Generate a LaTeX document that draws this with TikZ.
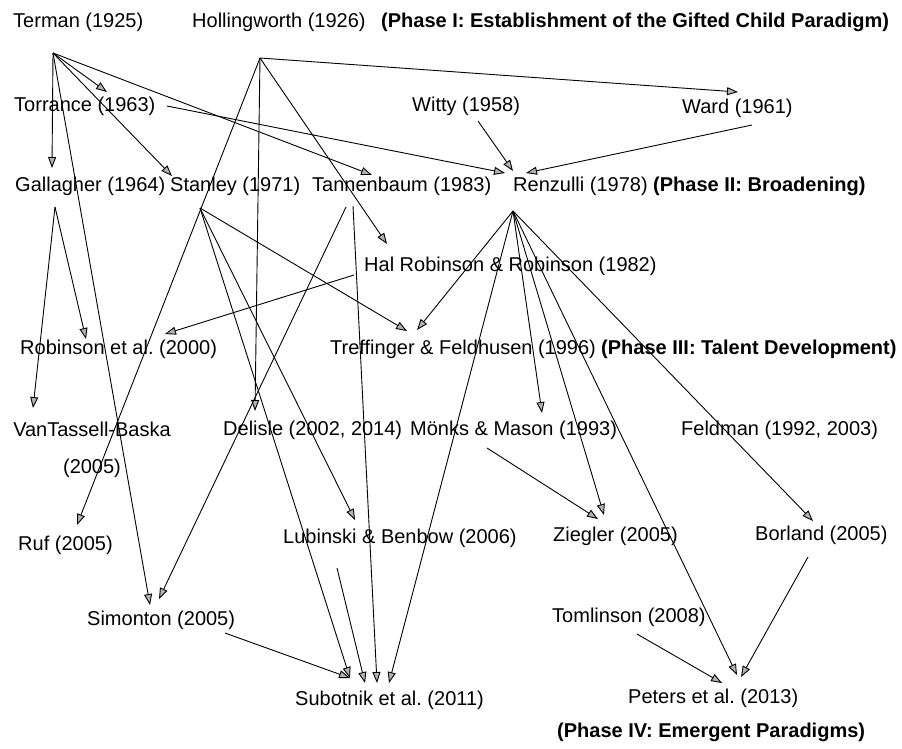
\documentclass[tikz,border=0pt]{standalone}
\usepackage{fontspec}
\setmainfont{Liberation Sans}
\usetikzlibrary{arrows.meta}
\frenchspacing
\begin{document}
\begin{tikzpicture}[x=1pt,y=-1pt,
  lbl/.style={anchor=west,inner sep=0pt,font=\fontsize{20}{24}\selectfont},
  phase/.style={anchor=west,inner sep=0pt,font=\fontsize{20}{24}\selectfont\bfseries},
  arr/.style={draw=black,line width=0.9pt,-{Triangle[length=11pt,width=8pt,fill=gray!60]}}]
\useasboundingbox (0,0) rectangle (902,748);
% labels
\node[lbl] (terman) at (13,22) {Terman (1925)};
\node[lbl] (holl) at (192,22) {Hollingworth (1926)};
\node[phase] (ph1) at (381,22) {(Phase I: Establishment of the Gifted Child Paradigm)};
\node[lbl] (torr) at (14,106) {Torrance (1963)};
\node[lbl] (witty) at (412,106) {Witty (1958)};
\node[lbl] (ward) at (682,108) {Ward (1961)};
\node[lbl] (gall) at (15,186) {Gallagher (1964)};
\node[lbl] (stan) at (170,186) {Stanley (1971)};
\node[lbl] (tann) at (312,186) {Tannenbaum (1983)};
\node[lbl] (renz) at (513,186) {Renzulli (1978)};
\node[phase] (ph2) at (653,186) {(Phase II: Broadening)};
\node[lbl] (halr) at (364,266) {Hal Robinson \& Robinson (1982)};
\node[lbl] (robe) at (20,349) {Robinson et al. (2000)};
\node[lbl] (tref) at (330,349) {Treffinger \& Feldhusen (1996)};
\node[phase] (ph3) at (601,349) {(Phase III: Talent Development)};
\node[align=center,inner sep=0pt,font=\fontsize{20}{37}\selectfont] (vtb) at (92,450) {VanTassell-Baska\\(2005)};
\node[lbl] (deli) at (223,430) {Delisle (2002, 2014)};
\node[lbl] (monk) at (410,430) {Mönks \& Mason (1993)};
\node[lbl] (feld) at (681,430) {Feldman (1992, 2003)};
\node[lbl] (ruf) at (18,545) {Ruf (2005)};
\node[lbl] (lubi) at (283,538) {Lubinski \& Benbow (2006)};
\node[lbl] (zieg) at (553,536) {Ziegler (2005)};
\node[lbl] (borl) at (755,535) {Borland (2005)};
\node[lbl] (simo) at (87,620) {Simonton (2005)};
\node[lbl] (toml) at (552,617) {Tomlinson (2008)};
\node[lbl] (subo) at (295,700) {Subotnik et al. (2011)};
\node[lbl] (pete) at (628,698) {Peters et al. (2013)};
\node[phase] (ph4) at (557,732) {(Phase IV: Emergent Paradigms)};
% connector origins
\coordinate (oTer) at (53,53);
\coordinate (oHol) at (260,58);
\coordinate (oTor) at (167,106);
\coordinate (oWit) at (478,121);
\coordinate (oWar) at (752,125);
\coordinate (oGal) at (55,207);
\coordinate (oSta) at (200,208);
\coordinate (oTanA) at (346,207);
\coordinate (oTanB) at (353,206);
\coordinate (oRen) at (513,211);
\coordinate (oHal) at (354,275);
\coordinate (oMon) at (487,448);
\coordinate (oLub) at (337,568);
\coordinate (oSim) at (225,633);
\coordinate (oBor) at (808,557);
\coordinate (oTom) at (637,634);
% connector tips
\coordinate (tGal) at (52,168);
\coordinate (tTor) at (107,92);
\coordinate (tSta) at (172,176);
\coordinate (tTan) at (372,175);
\coordinate (tSimA) at (150,605);
\coordinate (tSimB) at (159,599);
\coordinate (tWar) at (738,92);
\coordinate (tRuf) at (77,525);
\coordinate (tDel) at (255,411);
\coordinate (tHal) at (387,244);
\coordinate (tRenA) at (505,173);
\coordinate (tRenB) at (513,171);
\coordinate (tRenC) at (526,173);
\coordinate (tRobA) at (86,339);
\coordinate (tRobB) at (165,334);
\coordinate (tVtb) at (33,408);
\coordinate (tTreA) at (407,331);
\coordinate (tTreB) at (417,330);
\coordinate (tLub) at (355,520);
\coordinate (tSubA) at (350,678);
\coordinate (tSubB) at (365,683);
\coordinate (tSubC) at (377,683);
\coordinate (tSubD) at (389,683);
\coordinate (tMon) at (542,413);
\coordinate (tZieA) at (598,519);
\coordinate (tZieB) at (604,515);
\coordinate (tPetA) at (722,683);
\coordinate (tPetB) at (737,675);
\coordinate (tPetC) at (741,677);
\coordinate (tBor) at (813,521);
% connectors
\draw[arr] (oTer) -- (tGal);
\draw[arr] (oTer) -- (tTor);
\draw[arr] (oTer) -- (tSta);
\draw[arr] (oTer) -- (tTan);
\draw[arr] (oTer) -- (tSimA);
\draw[arr] (oHol) -- (tWar);
\draw[arr] (oHol) -- (tRuf);
\draw[arr] (oHol) -- (tDel);
\draw[arr] (oHol) -- (tHal);
\draw[arr] (oTor) -- (tRenA);
\draw[arr] (oWit) -- (tRenB);
\draw[arr] (oWar) -- (tRenC);
\draw[arr] (oGal) -- (tRobA);
\draw[arr] (oGal) -- (tVtb);
\draw[arr] (oSta) -- (tTreA);
\draw[arr] (oSta) -- (tLub);
\draw[arr] (oSta) -- (tSubA);
\draw[arr] (oTanA) -- (tSimB);
\draw[arr] (oTanB) -- (tSubC);
\draw[arr] (oRen) -- (tTreB);
\draw[arr] (oRen) -- (tSubD);
\draw[arr] (oRen) -- (tMon);
\draw[arr] (oRen) -- (tZieB);
\draw[arr] (oRen) -- (tPetB);
\draw[arr] (oRen) -- (tBor);
\draw[arr] (oHal) -- (tRobB);
\draw[arr] (oMon) -- (tZieA);
\draw[arr] (oLub) -- (tSubB);
\draw[arr] (oSim) -- (tSubA);
\draw[arr] (oBor) -- (tPetC);
\draw[arr] (oTom) -- (tPetA);
\end{tikzpicture}
\end{document}
